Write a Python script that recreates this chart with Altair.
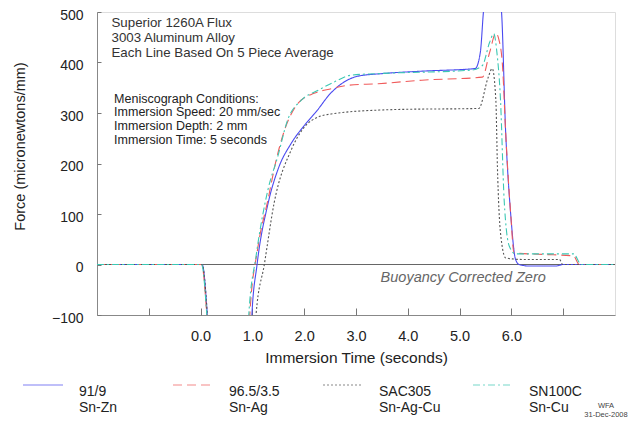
import altair as alt
import pandas as pd

FONT = "Liberation Sans"

series = ["91/9|Sn-Zn", "96.5/3.5|Sn-Ag", "SAC305|Sn-Ag-Cu", "SN100C|Sn-Cu"]
colors = ["#4a4af0", "#f05a5a", "#555555", "#3cc8b4"]
dashes = [[1, 0], [9, 5], [2, 2], [7, 3, 2, 3]]

# 91/9 Sn-Zn
t_snzn = [-2, 0.03, 0.13, 0.25, 0.90, 0.99, 1.09, 1.30, 1.50, 1.75, 2.00, 2.25, 2.50, 2.75, 3.04, 3.50,
          4.30, 5.30, 5.40, 5.47, 5.60, 5.80, 5.89, 5.99, 6.08, 6.15, 6.34, 6.86, 6.99, 8.0]
f_snzn = [0, 0, -100, -350, -350, -100, 0, 120, 190, 240, 275, 305, 338, 360, 373, 378,
          383, 388, 420, 510, 560, 510, 260, 95, 10, 0, -3, -3, 0, 0]

# 96.5/3.5 Sn-Ag
t_snag = [-2, 0.02, 0.12, 0.25, 0.85, 0.95, 1.10, 1.30, 1.46, 1.62, 1.88, 2.19, 2.52, 2.85, 3.43,
          4.27, 5.44, 5.58, 5.70, 5.76, 5.83, 5.89, 5.99, 6.05, 6.60, 7.20, 7.31, 8.0]
f_snag = [0, 0, -100, -350, -350, -100, 30, 128, 207, 266, 319, 339, 348, 355, 358,
          365, 371, 420, 458, 445, 391, 260, 95, 23, 20, 17, 0, 0]

# SAC305 Sn-Ag-Cu
t_sac = [-2, 0.03, 0.13, 0.25, 0.97, 1.07, 1.23, 1.42, 1.75, 2.01, 2.27, 2.52, 3.50, 3.82,
         5.37, 5.55, 5.63, 5.70, 5.73, 5.79, 5.89, 6.21, 6.93, 6.99, 8.0]
f_sac = [0, 0, -100, -350, -350, -100, 0, 122, 227, 273, 292, 298, 306, 307,
         309, 370, 388, 325, 194, 62, 13, 10, 10, 0, 0]

# SN100C Sn-Cu
t_sncu = [-2, 0.02, 0.12, 0.25, 0.83, 0.93, 1.07, 1.30, 1.49, 1.68, 1.94, 2.27, 2.59, 2.91, 3.43,
          5.24, 5.44, 5.58, 5.66, 5.72, 5.79, 5.86, 5.96, 6.08, 7.20, 7.35, 8.0]
f_sncu = [0, 0, -100, -350, -350, -100, 16, 148, 214, 286, 325, 345, 362, 375, 378,
          385, 394, 440, 457, 420, 325, 128, 36, 21, 21, 0, 0]

x_labels = [0, 1, 2, 3, 4, 5, 6]
x_ticks = [-1, 0, 1, 2, 3, 4, 5, 6, 7]
y_ticks = [-100, 0, 100, 200, 300, 400, 500]

info_text = ["Superior 1260A Flux", "3003 Aluminum Alloy", "Each Line Based On 5 Piece Average"]
cond_text = ["Meniscograph Conditions:", "Immersion Speed: 20 mm/sec", "Immersion Depth: 2 mm",
             "Immersion Time: 5 seconds"]
zero_text = "Buoyancy  Corrected  Zero"
stamp_text = ["WFA", "31-Dec-2008"]

rows = []
for name, ts, fs in zip(series, [t_snzn, t_snag, t_sac, t_sncu], [f_snzn, f_snag, f_sac, f_sncu]):
    for i, (t, f) in enumerate(zip(ts, fs)):
        rows.append({"label": name, "t": t, "f": f, "i": i})
df = pd.DataFrame(rows)
one = pd.DataFrame({"k": [0]})

W, H = 518, 303
xscale = alt.Scale(domain=[-2, 8], nice=False, zero=False)
yscale = alt.Scale(domain=[-100, 500], nice=False, zero=False)

legend = alt.Legend(
    title=None, orient="none", legendX=-75, legendY=352, direction="horizontal", columns=4,
    symbolType="stroke", symbolSize=1600, symbolStrokeWidth=2, symbolOpacity=0.35,
    labelExpr="split(datum.label, '|')", labelFont=FONT, labelFontSize=14, labelColor="#222",
    labelOffset=15, columnPadding=28, gridAlign="all", labelBaseline="top", labelLimit=200,
)

lines = alt.Chart(df).mark_line(strokeWidth=1.1, clip=True, interpolate="monotone").encode(
    x=alt.X("t:Q", scale=xscale, axis=alt.Axis(
        values=x_labels, format=".1f", ticks=False, grid=False, domainColor="#888",
        labelFont=FONT, labelFontSize=14.5, labelColor="#222", labelPadding=14,
        title="Immersion Time (seconds)", titleFont=FONT, titleFontSize=15.5, titleFontWeight="normal",
        titleColor="#222", titleY=42, titleBaseline="middle")),
    y=alt.Y("f:Q", scale=yscale, axis=alt.Axis(
        values=y_ticks, ticks=False, grid=False, domainColor="#888",
        labelFont=FONT, labelFontSize=14, labelColor="#222", labelPadding=14, labelOffset=3,
        title="Force (micronewtons/mm)", titleFont=FONT, titleFontSize=14.5, titleFontWeight="normal",
        titleColor="#222", titleX=-77, titleY=134, titleAngle=-90, titleAlign="center",
        titleBaseline="middle")),
    color=alt.Color("label:N", scale=alt.Scale(domain=series, range=colors), legend=legend),
    strokeDash=alt.StrokeDash("label:N", scale=alt.Scale(domain=series, range=dashes), legend=legend),
    order="i:Q",
)

tick_layer = alt.Chart(df).mark_line(opacity=0).encode(
    x=alt.X("t:Q", scale=xscale, axis=alt.Axis(
        orient="top", offset=-H, values=x_ticks, labels=False, domain=False, grid=False,
        tickSize=7, tickColor="#777", title=None)),
    y=alt.Y("f:Q", scale=yscale, axis=alt.Axis(
        orient="right", offset=-W, values=y_ticks, labels=False, domain=False, grid=False,
        tickSize=4, tickColor="#777", title=None)),
    detail="label:N",
)

zero = alt.Chart(one).mark_rule(color="#666", strokeWidth=1).encode(
    y=alt.Y(datum=0, scale=yscale, axis=None)
)

info = alt.Chart(one).mark_text(
    text=info_text, align="left", baseline="middle", font=FONT, fontSize=13.3, color="#333", lineHeight=15
).encode(x=alt.X(datum=-1.72, scale=xscale, axis=None), y=alt.Y(datum=478, scale=yscale, axis=None))

cond = alt.Chart(one).mark_text(
    text=cond_text, align="left", baseline="middle", font=FONT, fontSize=12.5, color="#222", lineHeight=13.6
).encode(x=alt.X(datum=-1.67, scale=xscale, axis=None), y=alt.Y(datum=328, scale=yscale, axis=None))

buoy = alt.Chart(one).mark_text(
    text=zero_text, align="center", baseline="middle", font=FONT, fontSize=14.5,
    fontStyle="italic", color="#666"
).encode(x=alt.X(datum=5.07, scale=xscale, axis=None), y=alt.Y(datum=-26, scale=yscale, axis=None))

stamp = alt.Chart(one).mark_text(
    text=stamp_text, align="center", baseline="middle", font=FONT, fontSize=7.5,
    color="#444", lineHeight=9, dx=-9, dy=91
).encode(x=alt.X(datum=8, scale=xscale, axis=None), y=alt.Y(datum=-100, scale=yscale, axis=None))

chart = alt.layer(zero, lines, tick_layer, info, cond, buoy, stamp).resolve_axis(
    x="independent", y="independent"
).properties(
    width=W, height=H,
    autosize=alt.AutoSizeParams(type="none"),
    padding={"left": 89, "top": 4, "right": 16, "bottom": 104},
).configure_view(stroke="#999", strokeWidth=1).configure(background="white")

chart.save("out.html", embed_options={"renderer": "svg", "actions": False})
